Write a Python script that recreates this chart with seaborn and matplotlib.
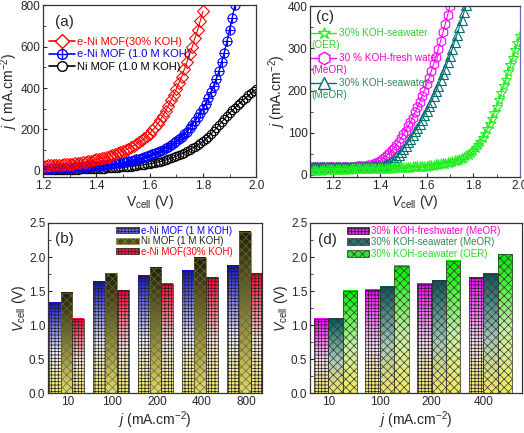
import numpy as np
import pandas as pd
import seaborn as sns
import matplotlib.pyplot as plt
from matplotlib.colors import LinearSegmentedColormap
from matplotlib.patches import Patch
from matplotlib.lines import Line2D
from matplotlib.ticker import FormatStrFormatter, MultipleLocator

# ---- (a) cell polarisation curves, j (mA cm-2) read every 10 mV
j_eni_30koh = [25, 25, 26, 26, 27, 28, 29, 30, 31, 32,
               33, 35, 36, 38, 40, 42, 44, 46, 49, 52,
               55, 58, 61, 64, 68, 72, 77, 81, 86, 91,
               96, 102, 108, 115, 122, 130, 138, 147, 157, 168,
               180, 195, 210, 227, 245, 267, 290, 315, 340, 367,
               395, 425, 455, 490, 525, 562, 600, 640, 680, 725,
               770]
v_eni_30koh = np.linspace(1.20, 1.80, len(j_eni_30koh))
j_eni_1m = [10, 10, 11, 11, 12, 12, 13, 13, 14, 14,
            15, 16, 17, 17, 18, 19, 20, 21, 22, 23,
            24, 25, 27, 28, 30, 32, 34, 36, 38, 40,
            42, 44, 47, 50, 53, 56, 59, 62, 66, 70,
            75, 80, 85, 91, 97, 103, 110, 117, 125, 134,
            143, 154, 165, 177, 190, 205, 222, 240, 258, 278,
            300, 325, 350, 380, 410, 445, 480, 525, 570, 625,
            680, 740, 800]
v_eni_1m = np.linspace(1.20, 1.92, len(j_eni_1m))
j_ni_1m = [3, 3, 3, 3, 4, 4, 4, 4, 5, 5,
           5, 5, 6, 6, 7, 7, 8, 8, 9, 9,
           10, 10, 11, 11, 12, 13, 14, 15, 16, 17,
           18, 19, 20, 21, 23, 24, 26, 28, 30, 32,
           34, 36, 39, 42, 45, 48, 52, 56, 60, 65,
           70, 76, 82, 88, 95, 102, 110, 117, 125, 133,
           142, 153, 165, 178, 192, 206, 220, 235, 250, 265,
           280, 293, 305, 318, 330, 341, 352, 364, 375, 385,
           395]
v_ni_1m = np.linspace(1.20, 2.00, len(j_ni_1m))

# ---- (c) seawater / freshwater curves
j_sea_oer = [10, 10, 10, 10, 10, 10, 11, 11, 11, 11,
             11, 11, 12, 12, 12, 12, 12, 12, 13, 13,
             13, 13, 13, 13, 14, 14, 14, 14, 14, 14,
             15, 15, 15, 15, 15, 15, 16, 16, 16, 16,
             17, 17, 17, 17, 18, 18, 19, 19, 19, 19,
             20, 21, 22, 22, 23, 24, 25, 26, 27, 28,
             29, 30, 32, 34, 36, 38, 41, 44, 48, 52,
             57, 63, 70, 78, 87, 97, 108, 120, 133, 147,
             162, 177, 193, 210, 226, 243, 260, 278, 295, 312,
             330]
v_sea_oer = np.linspace(1.10, 2.00, len(j_sea_oer))
j_fresh_meor = [20, 20, 20, 20, 20, 20, 20, 20, 20, 20,
                20, 20, 20, 20, 20, 20, 20, 20, 20, 20,
                21, 21, 21, 22, 22, 23, 24, 26, 28, 31,
                34, 38, 42, 47, 52, 58, 64, 71, 79, 87,
                96, 105, 115, 125, 136, 148, 160, 173, 186, 200,
                215, 230, 246, 263, 280, 299, 318, 338, 358, 379,
                400, 420, 440]
v_fresh_meor = np.linspace(1.10, 1.72, len(j_fresh_meor))
j_sea_meor = [20, 20, 20, 20, 20, 20, 20, 20, 20, 20,
              20, 20, 20, 20, 20, 20, 20, 20, 20, 20,
              20, 20, 20, 20, 20, 20, 20, 21, 21, 21,
              21, 22, 23, 25, 28, 32, 36, 42, 48, 55,
              62, 69, 77, 85, 94, 103, 112, 121, 131, 141,
              152, 163, 174, 186, 198, 211, 224, 238, 252, 267,
              282, 298, 315, 332, 350, 367, 385, 402, 420]
v_sea_meor = np.linspace(1.10, 1.78, len(j_sea_meor))

# ---- (b) cell voltage at fixed current density
j_cats_b = ['10', '100', '200', '400', '800']
names_b = ['e-Ni MOF (1 M KOH)', 'Ni MOF (1 M KOH)', 'e-Ni MOF(30% KOH)']
vb_eni_1m = [1.33, 1.64, 1.72, 1.80, 1.88]
vb_ni_1m = [1.47, 1.76, 1.84, 1.99, 2.37]
vb_eni_30 = [1.09, 1.51, 1.61, 1.70, 1.76]

# ---- (d)
j_cats_d = ['10', '100', '200', '400']
names_d = ['30% KOH-freshwater (MeOR)', '30% KOH-seawater (MeOR)', '30% KOH-seawater (OER)']
vd_fresh_meor = [1.09, 1.52, 1.61, 1.70]
vd_sea_meor = [1.10, 1.56, 1.66, 1.75]
vd_sea_oer = [1.50, 1.87, 1.94, 2.04]

sns.set_style('ticks')
plt.rcParams['font.family'] = ['Liberation Sans', 'DejaVu Sans']
plt.rcParams['mathtext.fontset'] = 'custom'
plt.rcParams['mathtext.rm'] = 'Liberation Sans'
plt.rcParams['mathtext.it'] = 'Liberation Sans:italic'
plt.rcParams['hatch.linewidth'] = 0.5
plt.rcParams['axes.edgecolor'] = '#333333'

fig = plt.figure(figsize=(5.24, 4.33), dpi=100)
ax_a = fig.add_axes([0.082, 0.591, 0.407, 0.397])
ax_c = fig.add_axes([0.592, 0.591, 0.400, 0.395])
ax_b = fig.add_axes([0.092, 0.092, 0.408, 0.393])
ax_d = fig.add_axes([0.592, 0.092, 0.404, 0.393])

TICK = 8.5
LAB = 10

for ax in (ax_a, ax_b, ax_c, ax_d):
    ax.tick_params(direction='in', length=3, labelsize=TICK, width=0.8, pad=2)
    ax.tick_params(which='minor', direction='in', length=2, width=0.6)
    for s in ax.spines.values():
        s.set_linewidth(0.9)


def curve(ax, x, y, color, marker, ms=7):
    sns.lineplot(x=x, y=y, ax=ax, color=color, lw=0.8, marker=marker, markersize=ms,
                 markerfacecolor='none', markeredgecolor=color, markeredgewidth=0.8,
                 sort=False, estimator=None)


# (a)
curve(ax_a, v_ni_1m, j_ni_1m, 'black', 'o', 6)
curve(ax_a, v_eni_1m, j_eni_1m, '#0000ff', 'o', 6.5)
curve(ax_a, v_eni_1m, j_eni_1m, '#0000ff', '+', 6.5)
curve(ax_a, v_eni_30koh, j_eni_30koh, '#ff0000', 'D', 6.5)
ax_a.set_xlim(1.2, 2.0)
ax_a.set_ylim(-30, 800)
ax_a.set_xticks([1.2, 1.4, 1.6, 1.8, 2.0])
ax_a.set_yticks([0, 200, 400, 600, 800])
ax_a.xaxis.set_minor_locator(MultipleLocator(0.1))
ax_a.yaxis.set_minor_locator(MultipleLocator(100))
ax_a.set_xlabel('V$_{\\rm cell}$ (V)', fontsize=LAB, labelpad=1)
ax_a.set_ylabel('$j$ ( mA.cm$^{-2}$)', fontsize=LAB, labelpad=0)
ax_a.text(0.055, 0.9, '(a)', transform=ax_a.transAxes, fontsize=11, va='center')
h_red = Line2D([], [], color='#ff0000', marker='D', mfc='white', mec='#ff0000', ms=7, lw=1.2)
h_blue = (Line2D([], [], color='#0000ff', marker='o', mfc='white', mec='#0000ff', ms=7, lw=1.2),
          Line2D([], [], color='#0000ff', marker='+', mec='#0000ff', ms=7, lw=0))
h_blk = Line2D([], [], color='black', marker='o', mfc='white', mec='black', ms=7, lw=1.2)
leg = ax_a.legend([h_red, h_blue, h_blk],
                  ['e-Ni MOF(30% KOH)', 'e-Ni MOF (1.0 M KOH)', 'Ni MOF (1.0 M KOH)'],
                  loc='upper left', bbox_to_anchor=(0.02, 0.83), frameon=False,
                  fontsize=8, handlelength=2.3, handletextpad=0.2, labelspacing=0.25,
                  borderaxespad=0.1, borderpad=0.1)
for t, c in zip(leg.get_texts(), ['#ff0000', '#0000ff', 'black']):
    t.set_color(c)

# (c)
curve(ax_c, v_fresh_meor, j_fresh_meor, '#ff00ff', 'h', 7)
curve(ax_c, v_sea_meor, j_sea_meor, '#007070', '^', 7)
curve(ax_c, v_sea_oer, j_sea_oer, '#22ee22', '*', 8)
ax_c.set_xlim(1.1, 2.0)
ax_c.set_ylim(-5, 400)
ax_c.set_xticks([1.2, 1.4, 1.6, 1.8, 2.0])
ax_c.set_yticks([0, 100, 200, 300, 400])
ax_c.xaxis.set_minor_locator(MultipleLocator(0.1))
ax_c.yaxis.set_minor_locator(MultipleLocator(50))
ax_c.spines['right'].set_color('#6a6ab8')
ax_c.set_xlabel('$V_{\\rm cell}$ (V)', fontsize=LAB, labelpad=1)
ax_c.set_ylabel('$j$ (mA.cm$^{-2}$)', fontsize=LAB, labelpad=0)
ax_c.text(0.03, 0.935, '(c)', transform=ax_c.transAxes, fontsize=11, va='center')
legend_c = [('#22ee22', '*', '30% KOH-seawater', '(OER)', '#33cc33'),
            ('#ff00ff', 'h', '30 % KOH-fresh water', '(MeOR)', '#ff00cc'),
            ('#007070', '^', '30% KOH-seawater', '(MeOR)', '#2e8b57')]
for i, (c, m, l1, l2, tc) in enumerate(legend_c):
    y1 = 0.842 - i * 0.146
    ax_c.plot([0.005, 0.125], [y1, y1], color=c, lw=1, transform=ax_c.transAxes, clip_on=False)
    ax_c.plot([0.065], [y1], marker=m, ms=9, mfc='white', mec=c, mew=1, transform=ax_c.transAxes)
    ax_c.text(0.135, y1, l1, color=tc, fontsize=7.2, va='center', transform=ax_c.transAxes)
    ax_c.text(0.005, y1 - 0.072, l2, color=tc, fontsize=7.2, va='center', transform=ax_c.transAxes)


def grad_bars(ax, container, top, bottom, mid, hatch, hc):
    cmap = LinearSegmentedColormap.from_list('', [(0, bottom), (0.45, mid), (1, top)])
    grad = np.linspace(0, 1, 64).reshape(-1, 1)
    for bar in container.patches:
        x0, w, h = bar.get_x(), bar.get_width(), bar.get_height()
        ax.imshow(grad, cmap=cmap, origin='lower', extent=(x0, x0 + w, 0, h),
                  aspect='auto', zorder=1, interpolation='bilinear')
        bar.set_facecolor('none')
        bar.set_edgecolor(hc)
        bar.set_linewidth(0.5)
        bar.set_hatch(hatch)
        bar.set_zorder(2)


def bar_panel(ax, cats, names, values, styles, width, tick_shift):
    df = pd.DataFrame({'j': cats * len(names),
                       'V': np.concatenate(values),
                       'sample': np.repeat(names, len(cats))})
    sns.barplot(data=df, x='j', y='V', hue='sample', order=cats, hue_order=names,
                width=width, gap=0, errorbar=None, legend=False, ax=ax)
    for cont, st in zip(ax.containers, styles):
        grad_bars(ax, cont, *st)
    ax.set_ylim(0, 2.5)
    ax.set_yticks([0, 0.5, 1.0, 1.5, 2.0, 2.5])
    ax.yaxis.set_minor_locator(MultipleLocator(0.25))
    ax.yaxis.set_major_formatter(FormatStrFormatter('%.1f'))
    ax.set_xticks(np.arange(len(cats)) + tick_shift, cats)
    ax.set_xlabel('$j$ (mA.cm$^{-2}$)', fontsize=LAB, labelpad=1)
    ax.set_ylabel('$V_{\\rm cell}$ (V)', fontsize=LAB, labelpad=1)


styles_b = [('#1010d0', '#f2e860', '#eeeefa', '+++++', '#222222'),
            ('#1e1e0c', '#e2d870', '#8a8440', 'xxxx', '#6a6a30'),
            ('#ff0030', '#f2e860', '#f8e8e0', '+++++', '#222222')]
bar_panel(ax_b, j_cats_b, names_b, [vb_eni_1m, vb_ni_1m, vb_eni_30], styles_b, 0.8, 0.03)
hb = [Patch(facecolor='#6060e0', edgecolor='#222', hatch='+++++', lw=0.5),
      Patch(facecolor='#4a4a20', edgecolor='#8a8a40', hatch='xxxx', lw=0.5),
      Patch(facecolor='#e02040', edgecolor='#222', hatch='+++++', lw=0.5)]
ax_b.set_xlim(-0.41, 4.39)
ax_b.text(0.03, 0.905, '(b)', transform=ax_b.transAxes, fontsize=11, va='center')
leg_b = ax_b.legend(hb, names_b, loc='upper left', bbox_to_anchor=(0.31, 0.995), frameon=False,
                    fontsize=7, handlelength=2.3, handleheight=0.6, handletextpad=0.2,
                    labelspacing=0.05, borderaxespad=0.1, borderpad=0.1)
for t, c in zip(leg_b.get_texts(), ['#0000ff', '#222222', '#ff0000']):
    t.set_color(c)

styles_d = [('#ff00ff', '#f2e860', '#f8e0f4', '+++++', '#222222'),
            ('#005a5a', '#f2e860', '#a8c8b8', 'xxxx', '#333333'),
            ('#00ee00', '#f2e860', '#c8f0a8', 'xxxx', '#333333')]
bar_panel(ax_d, j_cats_d, names_d, [vd_fresh_meor, vd_sea_meor, vd_sea_oer], styles_d, 0.84, -0.14)
hd = [Patch(facecolor='#e020e0', edgecolor='#222', hatch='+++++', lw=0.5),
      Patch(facecolor='#307070', edgecolor='#333', hatch='xxxx', lw=0.5),
      Patch(facecolor='#30e030', edgecolor='#333', hatch='xxxx', lw=0.5)]
ax_d.set_xlim(-0.49, 3.61)
ax_d.text(0.035, 0.9, '(d)', transform=ax_d.transAxes, fontsize=11, va='center')
leg_d = ax_d.legend(hd, names_d, loc='upper left', bbox_to_anchor=(0.165, 0.995), frameon=False,
                    fontsize=7, handlelength=2.3, handleheight=0.7, handletextpad=0.2,
                    labelspacing=0.15, borderaxespad=0.1, borderpad=0.1)
for t, c in zip(leg_d.get_texts(), ['#ff00cc', '#2e8b57', '#22dd22']):
    t.set_color(c)

fig.savefig('out.png', dpi=100)
